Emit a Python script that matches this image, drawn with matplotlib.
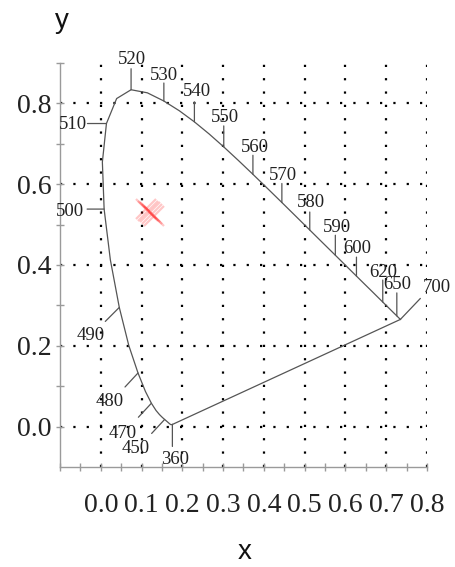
import numpy as np
import matplotlib
matplotlib.use("Agg")
import matplotlib.pyplot as plt

# spectral locus (CIE 1931 chromaticity), wavelength in nm
wl = [360, 380, 400, 410, 420, 430, 440, 450, 455, 460, 465, 470, 475, 480, 485,
      490, 495, 500, 505, 510, 515, 520, 525, 530, 535, 540, 545, 550, 555, 560,
      565, 570, 575, 580, 585, 590, 595, 600, 605, 610, 615, 620, 625, 630, 640,
      650, 660, 680, 700]
cx = [0.1756, 0.1741, 0.1733, 0.1726, 0.1714, 0.1689, 0.1644, 0.1566, 0.1510,
      0.1440, 0.1355, 0.1241, 0.1096, 0.0913, 0.0687, 0.0454, 0.0235, 0.0082,
      0.0039, 0.0139, 0.0389, 0.0743, 0.1142, 0.1547, 0.1929, 0.2296, 0.2658,
      0.3016, 0.3373, 0.3731, 0.4087, 0.4441, 0.4788, 0.5125, 0.5448, 0.5752,
      0.6029, 0.6270, 0.6482, 0.6658, 0.6801, 0.6915, 0.7006, 0.7079, 0.7190,
      0.7260, 0.7300, 0.7334, 0.7347]
cy = [0.0053, 0.0050, 0.0048, 0.0048, 0.0051, 0.0069, 0.0109, 0.0177, 0.0227,
      0.0297, 0.0399, 0.0578, 0.0868, 0.1327, 0.2007, 0.2950, 0.4127, 0.5384,
      0.6548, 0.7502, 0.8120, 0.8338, 0.8262, 0.8059, 0.7816, 0.7543, 0.7243,
      0.6923, 0.6589, 0.6245, 0.5896, 0.5547, 0.5202, 0.4866, 0.4544, 0.4242,
      0.3965, 0.3725, 0.3514, 0.3340, 0.3197, 0.3083, 0.2993, 0.2920, 0.2809,
      0.2740, 0.2700, 0.2666, 0.2653]

# labelled wavelengths
marked = [360, 450, 470, 480, 490, 500, 510, 520, 530, 540, 550, 560, 570, 580,
          590, 600, 620, 650, 700]

# red sample points
sx = [0.110, 0.115, 0.120, 0.125, 0.130]
sy = [0.538, 0.534, 0.530, 0.526, 0.521]

# tick end / label offsets in pixels (right, up)
tick_off = {360: (0, -22), 450: (-13, -14), 470: (-13, -14), 480: (-13, -14),
            490: (-14, -14), 500: (-17, 0), 510: (-19, 0), 520: (0, 21),
            530: (0, 18), 540: (0, 20), 550: (0, 21), 560: (0, 19), 570: (0, 19),
            580: (0, 18), 590: (0, 20), 600: (0, 19), 620: (0, 22), 650: (0, 23),
            700: (20, 21)}
lab_off = {360: (3, -35), 450: (-29, -29), 470: (-29, -30), 480: (-28, -29),
           490: (-29, -28), 500: (-34, -2), 510: (-34, -1), 520: (1, 30),
           530: (0, 26), 540: (3, 30), 550: (1, 29), 560: (2, 27), 570: (1, 27),
           580: (1, 28), 590: (2, 28), 600: (1, 28), 620: (0, 30), 650: (0, 31),
           700: (36, 32)}

fig = plt.figure(figsize=(4.55, 5.67), dpi=100)
ax = fig.add_axes([60/455, 100/567, 367/455, 404/567])

line_col = "#555555"
ax.plot(cx, cy, color=line_col, lw=0.9, solid_joinstyle="round")
ax.plot([cx[-1], cx[0]], [cy[-1], cy[0]], color=line_col, lw=0.9)

for w in marked:
    i = wl.index(w)
    pt = (cx[i], cy[i])
    ax.annotate("", xy=pt, xytext=tick_off[w], textcoords="offset pixels",
                arrowprops=dict(arrowstyle="-", color=line_col, lw=0.9,
                                shrinkA=0, shrinkB=0))
    ax.annotate(str(w), xy=pt, xytext=lab_off[w], textcoords="offset pixels",
                ha="center", va="center", fontsize=13.5,
                family="Liberation Serif", color="#222222",
                annotation_clip=False)

ax.plot(sx, sy, linestyle="none", marker="x", color="red", alpha=0.22,
        markersize=14, markeredgewidth=1.6)

ax.set_xlim(-0.1, 0.8)
ax.set_ylim(-0.1, 0.9)
ax.set_xticks(np.round(np.arange(0, 0.81, 0.1), 2))
ax.set_xticks([-0.1, -0.05, 0.05, 0.15, 0.25, 0.35, 0.45, 0.55, 0.65, 0.75],
              minor=True)
ax.set_yticks([0.0, 0.2, 0.4, 0.6, 0.8])
ax.set_yticks([0.1, 0.3, 0.5, 0.7, 0.9], minor=True)
ax.set_xticklabels(["%.1f" % v for v in np.arange(0, 0.81, 0.1)])
ax.set_yticklabels(["0.0", "0.2", "0.4", "0.6", "0.8"])

for lab in ax.get_xticklabels() + ax.get_yticklabels():
    lab.set_family("Liberation Serif")
    lab.set_fontsize(20)
    lab.set_color("#222222")

ax.tick_params(axis="both", which="both", direction="inout", length=6,
               width=1, color="#9a9a9a")
ax.tick_params(axis="x", which="major", pad=16)
ax.tick_params(axis="y", which="major", pad=3)

ax.grid(which="major", color="black", linestyle=(0, (1, 5)), linewidth=1.6)

for s in ["top", "right"]:
    ax.spines[s].set_visible(False)
for s in ["left", "bottom"]:
    ax.spines[s].set_color("#9a9a9a")
    ax.spines[s].set_linewidth(1)

fig.text(62/455, 1 - 21/567, "y", ha="center", va="center", fontsize=20,
         family="Liberation Sans", color="#111111")
fig.text(245/455, 1 - 552/567, "x", ha="center", va="center", fontsize=20,
         family="Liberation Sans", color="#111111")

fig.savefig("out.png", dpi=100)
